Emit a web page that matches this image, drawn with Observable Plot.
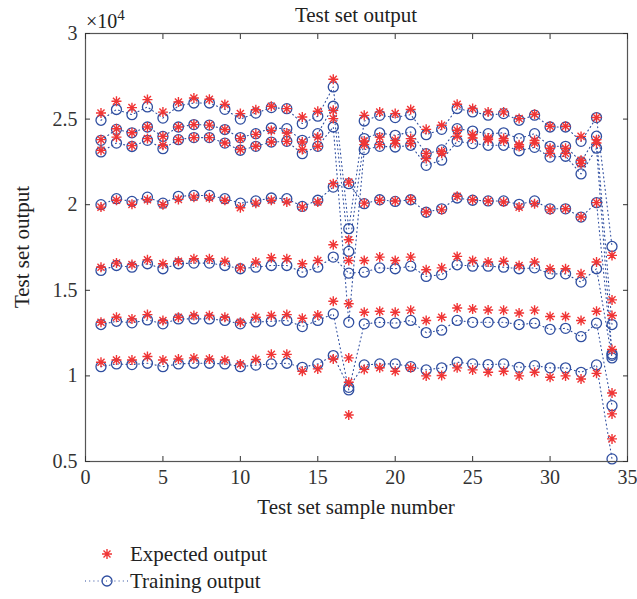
<!DOCTYPE html>
<html><head><meta charset="utf-8">
<script src="https://cdn.jsdelivr.net/npm/d3@7"></script>
<script src="https://cdn.jsdelivr.net/npm/@observablehq/plot@0.6"></script>
<style>
body{margin:0;background:#fff;}
#fig{position:relative;width:637px;height:599px;font-family:"Liberation Serif","Times New Roman",serif;color:#222;overflow:hidden;}
.abs{position:absolute;white-space:nowrap;line-height:1;}
</style></head><body><div id="fig"></div>
<script>
// sample numbers 1..34
const samples = [1,2,3,4,5,6,7,8,9,10,11,12,13,14,15,16,17,18,19,20,21,22,23,24,25,26,27,28,29,30,31,32,33,34];
// values in units of 1e4
const train7 = [2.493,2.556,2.526,2.571,2.506,2.577,2.594,2.594,2.557,2.500,2.535,2.567,2.561,2.474,2.517,2.688,1.860,2.489,2.522,2.509,2.526,2.409,2.440,2.562,2.542,2.523,2.532,2.493,2.523,2.454,2.454,2.370,2.509,1.756];
const expect7 = [2.536,2.604,2.567,2.614,2.541,2.600,2.623,2.616,2.586,2.532,2.555,2.575,2.561,2.512,2.546,2.733,1.795,2.522,2.541,2.532,2.556,2.440,2.464,2.587,2.562,2.542,2.542,2.503,2.528,2.458,2.458,2.399,2.509,1.704];
const train6 = [2.376,2.440,2.420,2.454,2.399,2.454,2.468,2.465,2.439,2.392,2.415,2.448,2.444,2.376,2.415,2.575,1.727,2.386,2.419,2.405,2.425,2.298,2.320,2.444,2.430,2.415,2.420,2.386,2.415,2.341,2.341,2.250,2.400,1.300];
const expect6 = [2.380,2.444,2.420,2.454,2.399,2.454,2.468,2.465,2.439,2.386,2.411,2.434,2.419,2.366,2.395,2.551,1.674,2.372,2.395,2.376,2.386,2.300,2.310,2.435,2.410,2.390,2.386,2.350,2.375,2.330,2.330,2.260,2.380,1.444];
const train5 = [2.308,2.360,2.340,2.376,2.327,2.380,2.392,2.392,2.360,2.318,2.341,2.366,2.370,2.298,2.341,2.454,1.313,2.322,2.341,2.337,2.347,2.230,2.260,2.370,2.357,2.347,2.347,2.315,2.335,2.278,2.283,2.180,2.330,1.129];
const expect5 = [2.318,2.395,2.345,2.386,2.347,2.380,2.392,2.392,2.360,2.322,2.341,2.366,2.370,2.322,2.341,2.503,1.421,2.351,2.351,2.357,2.357,2.270,2.300,2.400,2.390,2.380,2.375,2.340,2.360,2.300,2.300,2.240,2.360,1.353];
const train4 = [2.000,2.035,2.019,2.044,2.009,2.049,2.054,2.054,2.035,2.009,2.022,2.039,2.035,1.990,2.026,2.103,2.123,2.006,2.029,2.019,2.029,1.956,1.976,2.039,2.026,2.022,2.022,2.002,2.022,1.976,1.976,1.928,2.012,1.120];
const expect4 = [1.986,2.026,2.002,2.029,2.000,2.031,2.044,2.040,2.026,1.982,2.009,2.026,2.016,1.986,2.016,2.123,2.132,2.009,2.026,2.022,2.031,1.957,1.970,2.049,2.029,2.022,2.016,1.986,2.006,1.970,1.976,1.928,2.012,1.154];
const train3 = [1.616,1.645,1.635,1.655,1.626,1.655,1.659,1.659,1.645,1.626,1.635,1.645,1.645,1.606,1.635,1.694,1.600,1.606,1.631,1.626,1.641,1.581,1.592,1.649,1.641,1.641,1.635,1.626,1.631,1.596,1.596,1.548,1.626,1.105];
const expect3 = [1.635,1.659,1.651,1.678,1.655,1.670,1.684,1.684,1.670,1.631,1.665,1.690,1.684,1.655,1.674,1.766,1.105,1.674,1.694,1.674,1.694,1.620,1.631,1.698,1.674,1.665,1.670,1.645,1.665,1.626,1.626,1.596,1.665,0.900];
const train2 = [1.300,1.319,1.310,1.327,1.304,1.333,1.333,1.333,1.324,1.304,1.315,1.319,1.324,1.288,1.324,1.362,0.918,1.304,1.313,1.308,1.324,1.253,1.267,1.324,1.313,1.313,1.313,1.300,1.308,1.272,1.278,1.229,1.308,0.826];
const expect2 = [1.313,1.343,1.333,1.358,1.324,1.343,1.353,1.353,1.343,1.313,1.343,1.353,1.358,1.337,1.356,1.436,0.963,1.372,1.378,1.372,1.384,1.324,1.343,1.397,1.391,1.385,1.384,1.367,1.384,1.347,1.347,1.324,1.378,0.778];
const train1 = [1.054,1.070,1.066,1.074,1.054,1.070,1.074,1.074,1.070,1.054,1.063,1.070,1.074,1.050,1.070,1.119,0.933,1.064,1.070,1.070,1.054,1.035,1.047,1.080,1.070,1.066,1.070,1.050,1.060,1.047,1.047,1.021,1.064,0.515];
const expect1 = [1.080,1.093,1.093,1.113,1.093,1.099,1.105,1.099,1.093,1.070,1.096,1.126,1.126,1.027,1.041,1.099,0.772,1.038,1.048,1.027,1.048,1.000,1.002,1.047,1.035,1.021,1.027,1.000,1.021,0.992,1.000,0.982,1.015,0.632];
const xTicks = [0,5,10,15,20,25,30,35];
const yTicks = [0.5,1,1.5,2,2.5,3];
const titleText = "Test set output";
const xLabel = "Test set sample number";
const yLabel = "Test set output";
const legendLabels = ["Expected output","Training output"];

const series = [
  {name:"s1", train:train1, expect:expect1},
  {name:"s2", train:train2, expect:expect2},
  {name:"s3", train:train3, expect:expect3},
  {name:"s4", train:train4, expect:expect4},
  {name:"s5", train:train5, expect:expect5},
  {name:"s6", train:train6, expect:expect6},
  {name:"s7", train:train7, expect:expect7}
];
const rows = [];
for (const s of series) samples.forEach((n,i) => rows.push({sample:n, series:s.name, training:s.train[i], expected:s.expect[i]}));

const RED = "#f03535", BLUE = "#2f4ea0";
const star8 = {draw(ctx, size){ const r = Math.sqrt(size/Math.PI), d = r*Math.SQRT1_2;
  ctx.moveTo(-r,0); ctx.lineTo(r,0); ctx.moveTo(0,-r); ctx.lineTo(0,r);
  ctx.moveTo(-d,-d); ctx.lineTo(d,d); ctx.moveTo(-d,d); ctx.lineTo(d,-d); }};

const FONT = '"Liberation Serif","Times New Roman",serif';
const chart = Plot.plot({
  width: 637, height: 502,
  marginTop: 5, marginBottom: 69, marginLeft: 85, marginRight: 10,
  style: {fontFamily: FONT, fontSize: "20px", color: "#333", background: "transparent", overflow: "visible"},
  x: {domain: [0,35], label: null},
  y: {domain: [0.5,3], label: null},
  marks: [
    Plot.line(rows, {x:"sample", y:"training", z:"series", stroke: BLUE, strokeWidth: 1.1, strokeDasharray: "1,3.2"}),
    Plot.dot(rows, {x:"sample", y:"training", r: 5, stroke: BLUE, strokeWidth: 1.3, fill: "none"}),
    Plot.dot(rows, {x:"sample", y:"expected", symbol: star8, r: 5, stroke: RED, strokeWidth: 1.4, fill: "none"}),
    Plot.frame({stroke: "#555", strokeWidth: 1.2}),
    Plot.axisX({anchor:"bottom", ticks: xTicks, tickSize: -5, tickPadding: 13, tickFormat: d => String(d), label: null}),
    Plot.axisX({anchor:"top", ticks: xTicks, tickSize: -5, tickFormat: () => "", label: null}),
    Plot.axisY({anchor:"left", ticks: yTicks, tickSize: -5, tickPadding: 13, tickFormat: d => String(d), label: null}),
    Plot.axisY({anchor:"right", ticks: yTicks, tickSize: -5, tickFormat: () => "", label: null})
  ]
});
const fig = document.getElementById("fig");
chart.style.position = "absolute"; chart.style.left = "0px"; chart.style.top = "28px";
fig.appendChild(chart);

function addText(html, css){ const d = document.createElement("div"); d.className = "abs"; d.innerHTML = html; Object.assign(d.style, css); fig.appendChild(d); return d; }
addText(titleText, {left:"356px", top:"5px", fontSize:"21px", transform:"translateX(-50%)", color:"#222"});
addText("×10<span style='font-size:15px;position:relative;top:-8px'>4</span>", {left:"86px", top:"11px", fontSize:"20px", color:"#222"});
addText(xLabel, {left:"356px", top:"497px", fontSize:"21px", transform:"translateX(-50%)", color:"#222"});
addText(yLabel, {left:"22px", top:"247px", fontSize:"21px", transform:"translate(-50%,-50%) rotate(-90deg)", color:"#222"});

// legend
const ns = "http://www.w3.org/2000/svg";
const lg = document.createElementNS(ns, "svg");
lg.setAttribute("width", "60"); lg.setAttribute("height", "60");
lg.style.position = "absolute"; lg.style.left = "80px"; lg.style.top = "535px";
lg.innerHTML = `<g stroke="${RED}" stroke-width="1.4"><path d="M22,19h10M27,14v10M23.5,15.5l7,7M23.5,22.5l7,-7"/></g>
<line x1="5" y1="46" x2="49" y2="46" stroke="${BLUE}" stroke-width="1.1" stroke-dasharray="1,3.2"/>
<circle cx="27" cy="46" r="5" fill="none" stroke="${BLUE}" stroke-width="1.3"/>`;
fig.appendChild(lg);
addText(legendLabels[0], {left:"130px", top:"544px", fontSize:"21px", color:"#222"});
addText(legendLabels[1], {left:"130px", top:"571px", fontSize:"21px", color:"#222"});
</script></body></html>
